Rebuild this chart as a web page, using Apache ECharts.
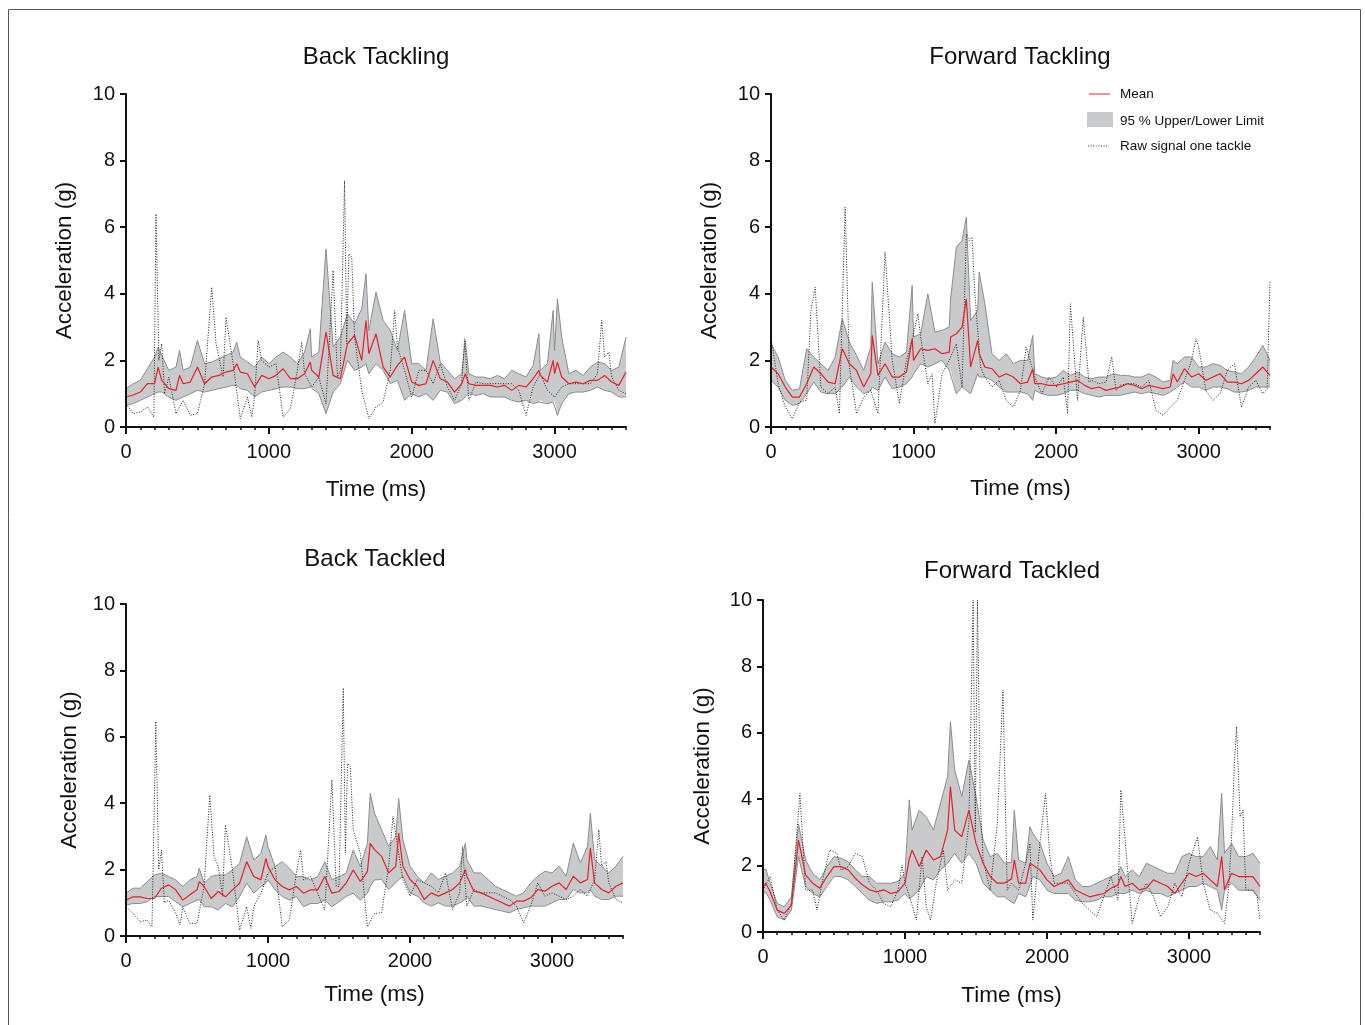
<!DOCTYPE html>
<html>
<head>
<meta charset="utf-8">
<script src="https://cdn.jsdelivr.net/npm/echarts@6.0.0/dist/echarts.min.js"></script>
<style>
html,body{margin:0;padding:0;background:#fff;}
#chart{width:1365px;height:1025px;}
</style>
</head>
<body>
<div id="chart"></div>
<script>
// ---------------- DATA ----------------
const titles = ['Back Tackling', 'Forward Tackling', 'Back Tackled', 'Forward Tackled'];
const xTicks = [0, 1000, 2000, 3000];
const yTicks = [0, 2, 4, 6, 8, 10];

// Panel 1: Back Tackling
const t1 = [0,50,100,150,200,225,250,300,350,375,400,450,500,550,600,650,700,750,775,800,850,900,950,1000,1050,1100,1150,1200,1250,1290,1300,1350,1400,1450,1500,1550,1600,1650,1680,1700,1750,1800,1850,1900,1950,2000,2050,2100,2150,2200,2250,2300,2350,2375,2400,2450,2500,2550,2600,2650,2700,2750,2800,2850,2890,2900,2950,2990,3000,3020,3050,3100,3150,3200,3250,3300,3350,3400,3450,3500];
const up1 = [1.15,1.3,1.4,1.75,2.1,2.4,2.15,1.7,1.8,2.3,1.7,1.8,2.6,1.9,1.95,2.05,2.15,2.25,2.55,2.1,1.95,1.8,2.1,1.9,2.1,2.25,2.1,1.9,2.25,2.95,2.1,2.25,5.35,2.4,2.7,3.4,3.1,3.55,4.6,2.9,4.05,3.2,2.9,2.3,3.5,1.9,1.9,1.7,3.25,1.95,1.7,1.45,1.6,2.6,1.6,1.5,1.5,1.45,1.55,1.45,1.7,1.6,1.5,1.85,2.8,1.7,1.9,3.5,2.3,3.85,2.7,1.6,1.7,1.55,1.8,1.95,1.9,1.7,1.8,2.7];
const lo1 = [0.65,0.7,0.8,0.9,1.0,1.05,1.05,0.9,0.8,0.85,0.9,1.0,1.1,1.05,1.1,1.15,1.2,1.25,1.25,1.15,1.1,0.9,1.05,1.1,1.15,1.2,1.2,1.15,1.15,1.2,1.2,1.0,0.4,1.05,1.3,2.0,1.7,1.8,1.9,1.6,1.9,1.7,1.3,1.4,0.8,1.0,0.9,1.0,0.8,1.1,1.05,0.7,0.8,0.9,1.0,0.95,1.0,0.9,0.9,0.9,0.8,0.75,0.8,0.7,0.75,0.8,0.7,0.75,0.8,0.35,0.7,1.0,1.05,1.05,1.1,1.2,1.1,1.05,0.9,0.9];
const mean1 = [0.9,0.96,1.05,1.3,1.3,1.8,1.4,1.15,1.1,1.55,1.3,1.35,1.8,1.3,1.5,1.55,1.65,1.7,1.9,1.65,1.6,1.2,1.55,1.45,1.55,1.75,1.45,1.45,1.6,1.95,1.7,1.5,2.85,1.55,1.45,2.5,2.75,2.0,3.2,2.2,2.8,1.8,1.5,1.85,2.1,1.35,1.25,1.3,2.0,1.45,1.35,1.05,1.3,1.6,1.3,1.25,1.25,1.25,1.2,1.25,1.1,1.25,1.2,1.45,1.7,1.55,1.35,2.0,1.6,1.95,1.5,1.3,1.35,1.3,1.4,1.4,1.55,1.35,1.25,1.65];
const raw1 = [[0,0.7],[50,0.4],[100,0.45],[150,0.6],[195,0.3],[210,6.4],[230,2.0],[250,2.5],[270,1.0],[300,1.5],[350,0.4],[400,0.8],[450,0.35],[500,0.4],[550,1.3],[600,4.2],[630,2.5],[650,2.1],[680,1.5],[700,3.3],[750,1.9],[800,0.25],[850,0.9],[880,0.3],[900,0.9],[925,2.6],[950,2.0],[1000,1.8],[1050,1.9],[1100,0.3],[1150,0.55],[1200,1.7],[1230,2.55],[1250,1.6],[1300,1.2],[1350,1.5],[1400,0.7],[1450,4.7],[1480,1.5],[1500,1.7],[1530,7.4],[1545,2.5],[1560,5.2],[1580,5.1],[1600,2.7],[1650,1.1],[1700,0.25],[1750,0.6],[1800,0.75],[1850,1.7],[1880,3.5],[1900,2.4],[1950,1.7],[2000,0.9],[2050,1.7],[2100,1.7],[2150,1.3],[2200,1.9],[2250,1.2],[2300,0.8],[2350,1.3],[2370,2.65],[2400,0.8],[2450,1.35],[2500,1.3],[2600,1.3],[2700,1.3],[2750,1.1],[2800,0.35],[2850,1.2],[2900,1.6],[2950,1.1],[3000,0.9],[3050,1.2],[3100,1.3],[3200,1.3],[3250,1.3],[3300,1.6],[3330,3.2],[3350,2.1],[3380,2.25],[3400,1.5],[3450,1.1],[3500,1.0]];

// Panel 2: Forward Tackling
const t2 = [0,50,100,150,200,250,300,350,400,450,500,550,600,650,700,710,750,800,850,900,950,990,1000,1050,1100,1150,1200,1250,1260,1300,1340,1370,1400,1450,1460,1500,1550,1600,1650,1700,1750,1800,1836,1850,1900,1950,2000,2050,2100,2150,2200,2250,2300,2350,2400,2450,2500,2550,2600,2650,2700,2750,2800,2820,2850,2900,2950,3000,3050,3100,3150,3200,3250,3300,3350,3400,3450,3500];
const up2 = [2.5,2.1,1.4,1.1,1.15,2.35,2.1,1.9,1.7,2.1,3.25,2.55,2.15,1.7,2.4,4.35,1.9,2.55,2.2,2.1,2.25,4.25,2.7,2.8,4.0,2.85,2.9,3.0,3.85,5.4,5.6,6.3,3.2,3.5,4.65,3.7,2.2,2.0,2.2,1.9,2.0,2.0,2.75,1.6,1.5,1.45,1.5,1.7,1.55,1.65,1.5,1.45,1.5,1.5,1.6,1.55,1.55,1.5,1.5,1.6,1.5,1.35,1.4,2.0,1.9,2.1,2.1,1.8,1.8,1.9,1.85,1.7,1.65,1.6,1.8,2.1,2.45,2.0];
const lo2 = [1.4,1.2,0.8,0.65,0.7,1.0,1.35,1.05,1.0,1.0,1.2,1.5,1.2,1.0,1.1,1.2,1.1,1.5,1.15,1.2,1.3,1.5,1.6,1.9,1.8,1.9,2.0,1.7,1.7,1.0,1.2,1.1,1.0,1.6,1.5,1.5,1.4,1.2,1.05,1.05,1.05,1.0,0.8,1.1,1.0,0.95,0.95,1.0,1.1,1.1,1.0,0.95,0.9,0.95,0.95,0.95,1.0,1.05,1.0,1.05,1.0,0.95,1.05,1.1,1.2,1.35,1.2,1.2,1.1,1.2,1.2,1.15,1.05,1.05,1.1,1.2,1.2,1.2];
const mean2 = [1.8,1.6,1.2,0.9,0.9,1.3,1.8,1.6,1.35,1.3,2.35,1.9,1.7,1.2,1.6,2.75,1.55,1.9,1.5,1.5,1.65,2.65,2.0,2.35,2.3,2.35,2.2,2.25,2.7,2.8,3.0,3.85,1.8,2.6,2.2,1.8,1.75,1.5,1.6,1.5,1.3,1.35,1.75,1.3,1.3,1.25,1.25,1.3,1.35,1.4,1.25,1.15,1.2,1.1,1.15,1.2,1.3,1.25,1.15,1.25,1.2,1.15,1.2,1.6,1.35,1.75,1.5,1.6,1.4,1.5,1.6,1.35,1.35,1.3,1.4,1.6,1.8,1.55];
const raw2 = [[0,2.7],[50,1.3],[100,0.6],[150,0.25],[200,0.75],[250,0.8],[280,3.5],[310,4.2],[350,1.2],[400,1.0],[450,1.2],[480,0.4],[520,6.6],[550,1.8],[600,0.4],[650,0.9],[700,1.1],[750,0.4],[800,5.25],[850,2.0],[900,0.7],[950,2.0],[1000,2.8],[1030,3.4],[1050,2.7],[1100,1.3],[1130,1.6],[1150,0.1],[1200,1.6],[1250,2.0],[1300,2.5],[1340,1.2],[1370,5.8],[1390,5.6],[1410,5.7],[1430,4.0],[1470,1.8],[1500,1.5],[1550,1.2],[1600,1.4],[1650,0.8],[1700,0.6],[1750,1.1],[1790,2.4],[1850,1.5],[1900,1.0],[1950,1.5],[2000,1.2],[2050,1.5],[2080,0.4],[2100,3.7],[2150,0.8],[2190,3.3],[2230,1.35],[2250,1.4],[2300,1.3],[2350,1.35],[2390,2.1],[2420,1.1],[2450,1.25],[2500,1.3],[2550,1.3],[2600,1.2],[2650,1.4],[2700,0.5],[2750,0.35],[2800,0.6],[2850,0.8],[2900,1.4],[2950,2.0],[2980,2.65],[3000,2.4],[3050,1.1],[3100,0.8],[3150,1.0],[3200,1.7],[3250,1.9],[3300,0.6],[3350,1.2],[3400,1.4],[3450,1.0],[3480,1.15],[3500,4.4]];

// Panel 3: Back Tackled
const t3 = [0,50,100,150,200,250,300,350,400,450,500,516,550,600,650,700,750,800,850,900,950,985,1000,1050,1100,1150,1200,1250,1300,1350,1400,1450,1500,1550,1600,1650,1700,1720,1750,1800,1850,1900,1920,1950,2000,2050,2100,2150,2200,2250,2300,2350,2390,2400,2450,2500,2550,2600,2650,2700,2750,2800,2850,2900,2950,3000,3050,3100,3150,3200,3250,3270,3300,3350,3400,3450,3500];
const up3 = [1.29,1.44,1.44,1.64,1.84,1.89,1.79,1.69,1.49,1.69,1.79,2.04,1.59,1.79,1.84,1.84,1.99,2.19,2.99,2.29,2.49,3.04,2.69,2.09,2.24,2.04,1.79,1.79,1.69,1.79,2.24,1.69,1.79,1.89,2.59,2.09,2.79,4.3,3.7,3.2,2.7,3.0,4.15,2.9,2.1,1.8,1.6,1.9,1.7,1.8,1.9,2.1,2.8,2.3,1.9,1.9,1.7,1.5,1.4,1.3,1.2,1.3,1.6,1.8,1.95,1.9,2.1,1.8,2.8,2.2,2.7,3.7,2.3,2.1,1.9,2.1,2.4];
const lo3 = [0.93,0.98,0.98,1.03,1.19,1.19,1.19,1.03,0.88,0.98,1.08,1.1,0.88,0.88,0.78,0.98,0.88,1.19,1.59,1.29,1.49,1.6,1.69,1.39,1.19,1.08,1.19,0.88,0.98,0.98,1.08,0.88,1.03,1.19,1.29,1.08,1.29,1.5,1.69,1.7,1.4,1.6,1.7,1.8,1.3,1.2,1.0,0.9,1.0,0.9,0.9,1.0,1.1,1.2,0.9,0.9,0.85,0.8,0.75,0.7,0.8,0.85,0.9,0.9,0.9,1.0,1.1,1.1,1.4,1.3,1.3,1.4,1.2,1.1,1.1,1.2,1.2];
const mean3 = [1.08,1.18,1.18,1.13,1.13,1.44,1.54,1.39,1.08,1.24,1.39,1.64,1.49,1.13,1.34,1.18,1.39,1.59,2.24,1.79,1.69,2.34,2.09,1.69,1.49,1.39,1.49,1.29,1.39,1.39,1.79,1.29,1.34,1.59,1.99,1.64,1.94,2.79,2.6,2.4,1.9,2.1,3.1,2.1,1.7,1.5,1.1,1.3,1.2,1.3,1.4,1.6,2.0,1.8,1.35,1.3,1.2,1.1,1.0,0.9,1.05,1.05,1.15,1.4,1.35,1.5,1.6,1.4,1.8,1.6,1.7,2.65,1.6,1.4,1.3,1.5,1.6];
const raw3 = [[0,0.88],[50,0.68],[100,0.43],[150,0.48],[183,0.28],[210,6.46],[230,2.0],[250,2.59],[270,1.0],[300,1.08],[350,0.68],[380,0.33],[400,0.88],[450,0.38],[500,0.38],[550,1.49],[590,4.25],[620,2.4],[650,2.09],[680,1.2],[700,3.35],[750,1.99],[800,0.18],[850,0.88],[880,0.23],[900,0.88],[950,1.29],[1000,1.89],[1050,2.09],[1100,0.28],[1150,0.48],[1200,1.89],[1230,2.59],[1250,1.69],[1300,1.79],[1350,1.29],[1400,0.78],[1450,4.7],[1480,1.5],[1500,1.49],[1530,7.47],[1545,2.5],[1560,5.2],[1580,5.1],[1600,3.2],[1650,2.49],[1700,0.28],[1750,0.68],[1800,0.7],[1850,2.1],[1880,3.6],[1920,2.5],[1950,1.7],[2000,1.2],[2050,1.7],[2100,1.6],[2150,1.5],[2200,1.3],[2250,1.9],[2300,0.8],[2350,1.3],[2370,2.7],[2400,0.9],[2450,1.4],[2500,1.3],[2600,1.3],[2700,1.1],[2750,0.9],[2800,0.4],[2850,0.9],[2900,1.6],[2950,1.2],[3000,1.3],[3050,1.2],[3100,1.1],[3150,1.2],[3200,1.4],[3250,1.2],[3300,1.7],[3330,3.2],[3350,2.1],[3380,2.25],[3400,1.6],[3450,1.1],[3500,1.0]];

// Panel 4: Forward Tackled
const t4 = [0,20,50,100,150,200,250,300,350,400,450,500,550,600,650,700,750,800,850,900,950,1000,1030,1050,1100,1150,1200,1250,1300,1320,1350,1400,1450,1500,1550,1600,1650,1700,1750,1770,1800,1850,1880,1900,1950,2000,2050,2100,2150,2200,2250,2300,2350,2400,2450,2500,2520,2550,2600,2650,2700,2750,2800,2850,2900,2950,3000,3050,3100,3150,3200,3230,3250,3300,3350,3400,3450,3500];
const up4 = [1.87,1.9,1.47,0.86,0.76,1.06,3.25,2.17,1.77,1.57,1.97,2.27,2.22,2.12,1.87,1.67,1.67,1.47,1.47,1.47,1.52,1.77,3.98,3.07,3.67,3.47,3.07,3.88,4.68,6.34,4.88,4.08,5.18,4.08,2.77,2.27,2.37,2.07,2.1,3.67,2.17,2.07,3.17,2.97,2.67,2.07,1.67,1.77,2.27,1.57,1.37,1.37,1.47,1.57,1.67,1.77,1.97,1.67,1.87,1.67,2.07,1.97,1.87,1.77,1.77,2.27,2.37,2.27,2.27,2.57,2.17,4.18,2.37,2.67,2.27,2.27,2.37,2.07];
const lo4 = [1.16,1.2,0.96,0.46,0.36,0.66,2.27,1.37,1.16,1.06,1.37,1.67,1.67,1.57,1.37,1.16,0.96,0.86,0.91,0.91,0.96,1.16,1.0,1.06,1.26,1.67,1.57,1.87,2.07,2.2,2.37,2.07,2.37,2.07,1.47,1.26,1.06,1.06,0.9,0.86,1.16,1.06,1.4,1.67,1.57,1.26,1.16,1.16,1.16,0.96,0.91,0.91,0.96,1.06,1.06,1.16,1.16,1.16,1.26,1.16,1.26,1.16,1.16,1.06,1.16,1.26,1.37,1.37,1.47,1.37,1.26,0.66,1.26,1.47,1.26,1.26,1.26,0.96];
const mean4 = [1.37,1.47,1.21,0.66,0.56,0.81,2.77,1.72,1.47,1.32,1.67,1.97,1.97,1.87,1.62,1.42,1.27,1.21,1.27,1.16,1.21,1.47,2.2,2.47,1.97,2.47,2.17,2.27,3.07,4.38,3.07,2.87,3.67,2.67,2.07,1.67,1.47,1.47,1.6,2.17,1.47,1.47,2.07,2.02,1.87,1.57,1.37,1.47,1.57,1.27,1.16,1.06,1.11,1.16,1.32,1.42,1.67,1.37,1.47,1.27,1.32,1.57,1.47,1.37,1.16,1.47,1.77,1.67,1.77,1.57,1.37,2.27,1.27,1.77,1.67,1.67,1.67,1.37];
const raw4 = [[0,1.26],[50,1.67],[100,0.66],[150,0.36],[200,0.86],[230,2.57],[260,4.18],[300,1.26],[350,1.26],[380,0.66],[420,1.57],[470,2.47],[520,2.37],[550,1.87],[600,1.97],[650,2.37],[700,2.27],[750,1.47],[800,1.26],[850,0.86],[900,0.76],[950,1.26],[980,2.02],[1000,1.47],[1040,0.96],[1080,0.36],[1120,2.27],[1150,0.76],[1180,0.36],[1220,1.47],[1270,2.47],[1300,1.26],[1350,1.57],[1400,1.47],[1450,3.27],[1480,10.0],[1495,3.0],[1510,10.0],[1530,4.0],[1550,2.17],[1600,1.26],[1650,3.27],[1690,7.29],[1720,1.26],[1750,1.47],[1800,1.26],[1850,2.07],[1880,2.67],[1900,0.36],[1950,2.67],[1990,4.18],[2020,2.27],[2050,1.47],[2100,1.47],[2150,1.47],[2200,1.16],[2250,0.86],[2300,0.66],[2350,0.46],[2400,1.06],[2450,1.67],[2500,0.96],[2520,4.28],[2560,2.27],[2600,0.26],[2650,1.06],[2700,1.47],[2750,1.06],[2800,0.46],[2850,0.76],[2900,1.47],[2950,1.06],[3000,2.07],[3060,2.87],[3100,1.47],[3150,0.66],[3200,0.56],[3250,0.26],[3280,1.37],[3300,2.87],[3320,5.08],[3335,6.18],[3360,3.47],[3380,3.67],[3400,1.26],[3450,1.26],[3480,1.06],[3500,0.36]];

const legendLabels = ['Mean', '95 % Upper/Lower Limit', 'Raw signal one tackle'];

// ---------------- STYLE / LAYOUT ----------------
const FONT = '"Liberation Sans", Arial, Helvetica, sans-serif';
const INK = '#111';
const RED = '#e8202a';
const FILL = '#c9cacc';
const EDGE = '#8b8d91';
const grids = [
  {left:126, top:94,  width:500, height:333},
  {left:771, top:94,  width:499, height:333},
  {left:126, top:604, width:497, height:332},
  {left:763, top:600, width:497, height:332}
];
const titlePos = [[376,45],[1020,45],[375,547],[1012,559]];
const yNameGap = [50, 50, 45, 49];
const xNameGap = [51, 50, 47, 52];

const panels = [
  {t:t1, up:up1, lo:lo1, mean:mean1, raw:raw1},
  {t:t2, up:up2, lo:lo2, mean:mean2, raw:raw2},
  {t:t3, up:up3, lo:lo3, mean:mean3, raw:raw3},
  {t:t4, up:up4, lo:lo4, mean:mean4, raw:raw4}
];

function bandRenderer(p) {
  return function (params, api) {
    if (params.dataIndex !== 0) return null;
    const top = p.t.map((x, k) => api.coord([x, p.up[k]]));
    const bottom = p.t.map((x, k) => api.coord([x, p.lo[k]])).reverse();
    return {type:'polygon', shape:{points: top.concat(bottom)}, style:{fill:FILL, stroke:null}, silent:true};
  };
}

const xAxes = [], yAxes = [], series = [];
panels.forEach((p, i) => {
  // main axis: line, labels and minor (100 ms) ticks
  xAxes[i] = {
    gridIndex:i, type:'value', min:0, max:3500, interval:100, z:5, position:'bottom',
    name:'Time (ms)', nameLocation:'middle', nameGap:xNameGap[i],
    nameTextStyle:{fontSize:22.5, color:INK, fontFamily:FONT},
    axisLine:{show:true, onZero:false, lineStyle:{color:INK, width:2}},
    axisTick:{show:true, length:3, lineStyle:{color:INK, width:1.5}},
    axisLabel:{fontSize:20, color:INK, fontFamily:FONT, margin:15,
      formatter:(v) => (xTicks.indexOf(v) >= 0 ? String(v) : '')},
    splitLine:{show:false}
  };
  // overlay axis: major ticks only
  xAxes[i + 4] = {
    gridIndex:i, type:'value', min:0, max:3500, interval:1000, position:'bottom', z:6,
    axisLine:{show:false},
    axisTick:{show:true, length:7, lineStyle:{color:INK, width:2}, customValues:xTicks},
    axisLabel:{show:false}, splitLine:{show:false}
  };
  yAxes[i] = {
    gridIndex:i, type:'value', min:0, max:10, interval:2, z:5,
    name:'Acceleration (g)', nameLocation:'middle', nameGap:yNameGap[i], nameRotate:90,
    nameTextStyle:{fontSize:22.5, color:INK, fontFamily:FONT},
    axisLine:{show:true, onZero:false, lineStyle:{color:INK, width:2}},
    axisTick:{show:true, length:6, lineStyle:{color:INK, width:2}},
    axisLabel:{fontSize:20, color:INK, fontFamily:FONT, margin:11},
    splitLine:{show:false}
  };
  const common = {xAxisIndex:i, yAxisIndex:i, silent:true, animation:false};
  series.push(Object.assign({}, common, {
    type:'custom', data:p.t.map((x, k) => [x, p.lo[k], p.up[k]]),
    encode:{x:0, y:[1, 2]}, renderItem:bandRenderer(p), z:1
  }));
  const lineCommon = Object.assign({type:'line', symbol:'none', z:2}, common);
  series.push(Object.assign({}, lineCommon, {data:p.t.map((x, k) => [x, p.up[k]]), lineStyle:{color:EDGE, width:1}}));
  series.push(Object.assign({}, lineCommon, {data:p.t.map((x, k) => [x, p.lo[k]]), lineStyle:{color:EDGE, width:1}}));
  series.push(Object.assign({}, lineCommon, {data:p.raw, z:3, lineStyle:{color:'#222', width:1, type:[1, 1.6]}}));
  series.push(Object.assign({}, lineCommon, {data:p.t.map((x, k) => [x, p.mean[k]]), z:4, lineStyle:{color:RED, width:1.2}}));
});

const titleOpts = titles.map((txt, i) => ({
  text: txt, left: titlePos[i][0], top: titlePos[i][1], textAlign: 'center', padding: 0,
  textStyle: {fontSize:24, fontWeight:'normal', color:INK, fontFamily:FONT}
}));

const legendFont = '13.5px ' + FONT;
const graphic = [
  {type:'rect', z:100, shape:{x:8.5, y:9.5, width:1352, height:1030}, style:{fill:'none', stroke:'#555', lineWidth:1}, silent:true},
  {type:'line', z:100, shape:{x1:1089, y1:94, x2:1110, y2:94}, style:{stroke:RED, lineWidth:1}},
  {type:'text', z:100, x:1120, y:94, style:{text:legendLabels[0], font:legendFont, fill:INK, verticalAlign:'middle'}},
  {type:'rect', z:100, shape:{x:1087, y:112, width:26, height:15}, style:{fill:FILL}},
  {type:'text', z:100, x:1120, y:121, style:{text:legendLabels[1], font:legendFont, fill:INK, verticalAlign:'middle'}},
  {type:'line', z:100, shape:{x1:1088, y1:146, x2:1109, y2:146}, style:{stroke:'#333', lineWidth:1, lineDash:[1, 1.6]}},
  {type:'text', z:100, x:1120, y:146, style:{text:legendLabels[2], font:legendFont, fill:INK, verticalAlign:'middle'}}
];

const chart = echarts.init(document.getElementById('chart'), null, {renderer:'canvas'});
chart.setOption({
  backgroundColor:'#fff',
  animation:false,
  textStyle:{fontFamily:FONT},
  title:titleOpts,
  grid:grids.map(g => Object.assign({containLabel:false}, g)),
  xAxis:xAxes,
  yAxis:yAxes,
  series:series,
  graphic:graphic
});
</script>
</body>
</html>
